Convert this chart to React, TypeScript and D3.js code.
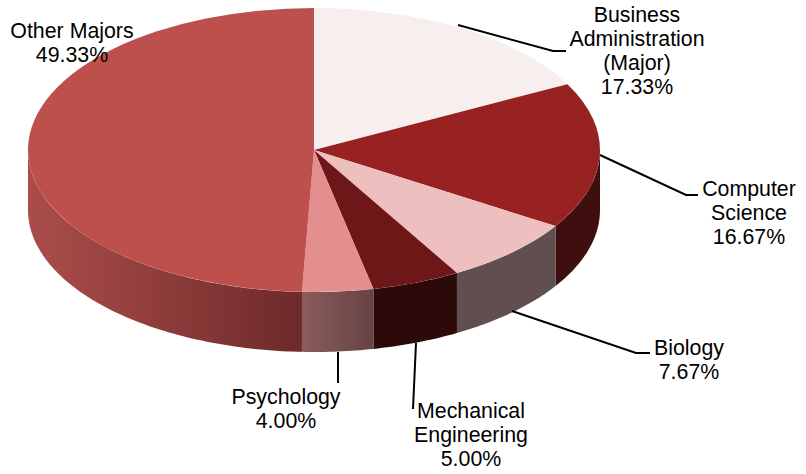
import React from "react";
import * as d3 from "d3";

const categories = ["Business Administration (Major)", "Computer Science", "Biology", "Mechanical Engineering", "Psychology", "Other Majors"];
const values = [17.33, 16.67, 7.67, 5.0, 4.0, 49.33];
const topColors = ["#f7eeee", "#982222", "#eebfbf", "#6e1719", "#e38f90", "#bd504d"];
const sideStops = [
  [["0", "#f7eeee"], ["1", "#f7eeee"]],
  [["0", "#3f0e0e"], ["1", "#3f0e0e"]],
  [["0", "#614f4f"], ["1", "#614f4f"]],
  [["0", "#2c0a0a"], ["1", "#2c0a0a"]],
  [["0", "#8a5c5c"], ["1", "#674343"]],
  [["0", "#a94d4b"], ["0.3", "#9a4340"], ["1", "#6d2a2a"]],
];
const labelLines = [
  ["Business", "Administration", "(Major)", "17.33%"],
  ["Computer", "Science", "16.67%"],
  ["Biology", "7.67%"],
  ["Mechanical", "Engineering", "5.00%"],
  ["Psychology", "4.00%"],
  ["Other Majors", "49.33%"],
];
const labelAnchors: [number, number][] = [
  [637, 22], [749, 196], [689, 355], [471, 418], [286, 404], [72, 38],
];
const leaders: [number, number][][] = [
  [[458, 25], [553, 51], [566, 51]],
  [[600, 155], [686, 195], [698, 195]],
  [[512, 311], [636, 353], [650, 353]],
  [[416, 343], [413, 409]],
  [[338, 352], [338, 383]],
];

const W = 806, H = 474, cx = 314, cy = 150, rx = 286, ry = 142, depth = 60;

export default function App() {
  const pie = d3.pie<number>().sort(null).value((d) => d);
  const arcs = pie(values);
  const arc = d3.arc<d3.PieArcDatum<number>>().innerRadius(0).outerRadius(rx);
  const line = d3.line<[number, number]>();
  const px = (a: number) => cx + rx * Math.sin(a);
  const py = (a: number) => cy - ry * Math.cos(a);

  const sides = arcs.map((s, i) => {
    const a0 = Math.max(s.startAngle, Math.PI / 2);
    const a1 = Math.min(s.endAngle, Math.PI * 1.5);
    if (a1 <= a0) return null;
    const n = Math.ceil((a1 - a0) * 60);
    const ang = d3.range(n + 1).map((k) => a0 + ((a1 - a0) * k) / n);
    const pts: [number, number][] = [
      ...ang.map((a) => [px(a), py(a)] as [number, number]),
      ...ang.slice().reverse().map((a) => [px(a), py(a) + depth] as [number, number]),
    ];
    return { i, d: line(pts)! + "Z", x0: Math.min(px(a0), px(a1)), x1: Math.max(px(a0), px(a1)) };
  });

  return (
    <svg width={W} height={H} style={{ position: "absolute", left: 0, top: 0, background: "#fff" }} fontFamily="'Liberation Sans', Arial, sans-serif">
      <defs>
        {sides.map((s) =>
          s ? (
            <linearGradient key={s.i} id={`side${s.i}`} gradientUnits="userSpaceOnUse" x1={s.x0} x2={s.x1} y1={0} y2={0}>
              {sideStops[s.i].map(([o, c]) => (
                <stop key={o} offset={o} stopColor={c} />
              ))}
            </linearGradient>
          ) : null
        )}
      </defs>
      {sides.map((s) => (s ? <path key={s.i} d={s.d} fill={`url(#side${s.i})`} /> : null))}
      <g transform={`translate(${cx},${cy}) scale(1,${ry / rx})`}>
        {arcs.map((s, i) => (
          <path key={i} d={arc(s)!} fill={topColors[i]} />
        ))}
      </g>
      {leaders.map((l, i) => (
        <path key={i} d={line(l)!} fill="none" stroke="#000" strokeWidth={2} />
      ))}
      {labelLines.map((lines, i) => (
        <text key={categories[i]} x={labelAnchors[i][0]} y={labelAnchors[i][1]} textAnchor="middle" fontSize={21.33} fill="#000">
          {lines.map((t, k) => (
            <tspan key={k} x={labelAnchors[i][0]} dy={k === 0 ? 0 : 24}>
              {t}
            </tspan>
          ))}
        </text>
      ))}
    </svg>
  );
}
